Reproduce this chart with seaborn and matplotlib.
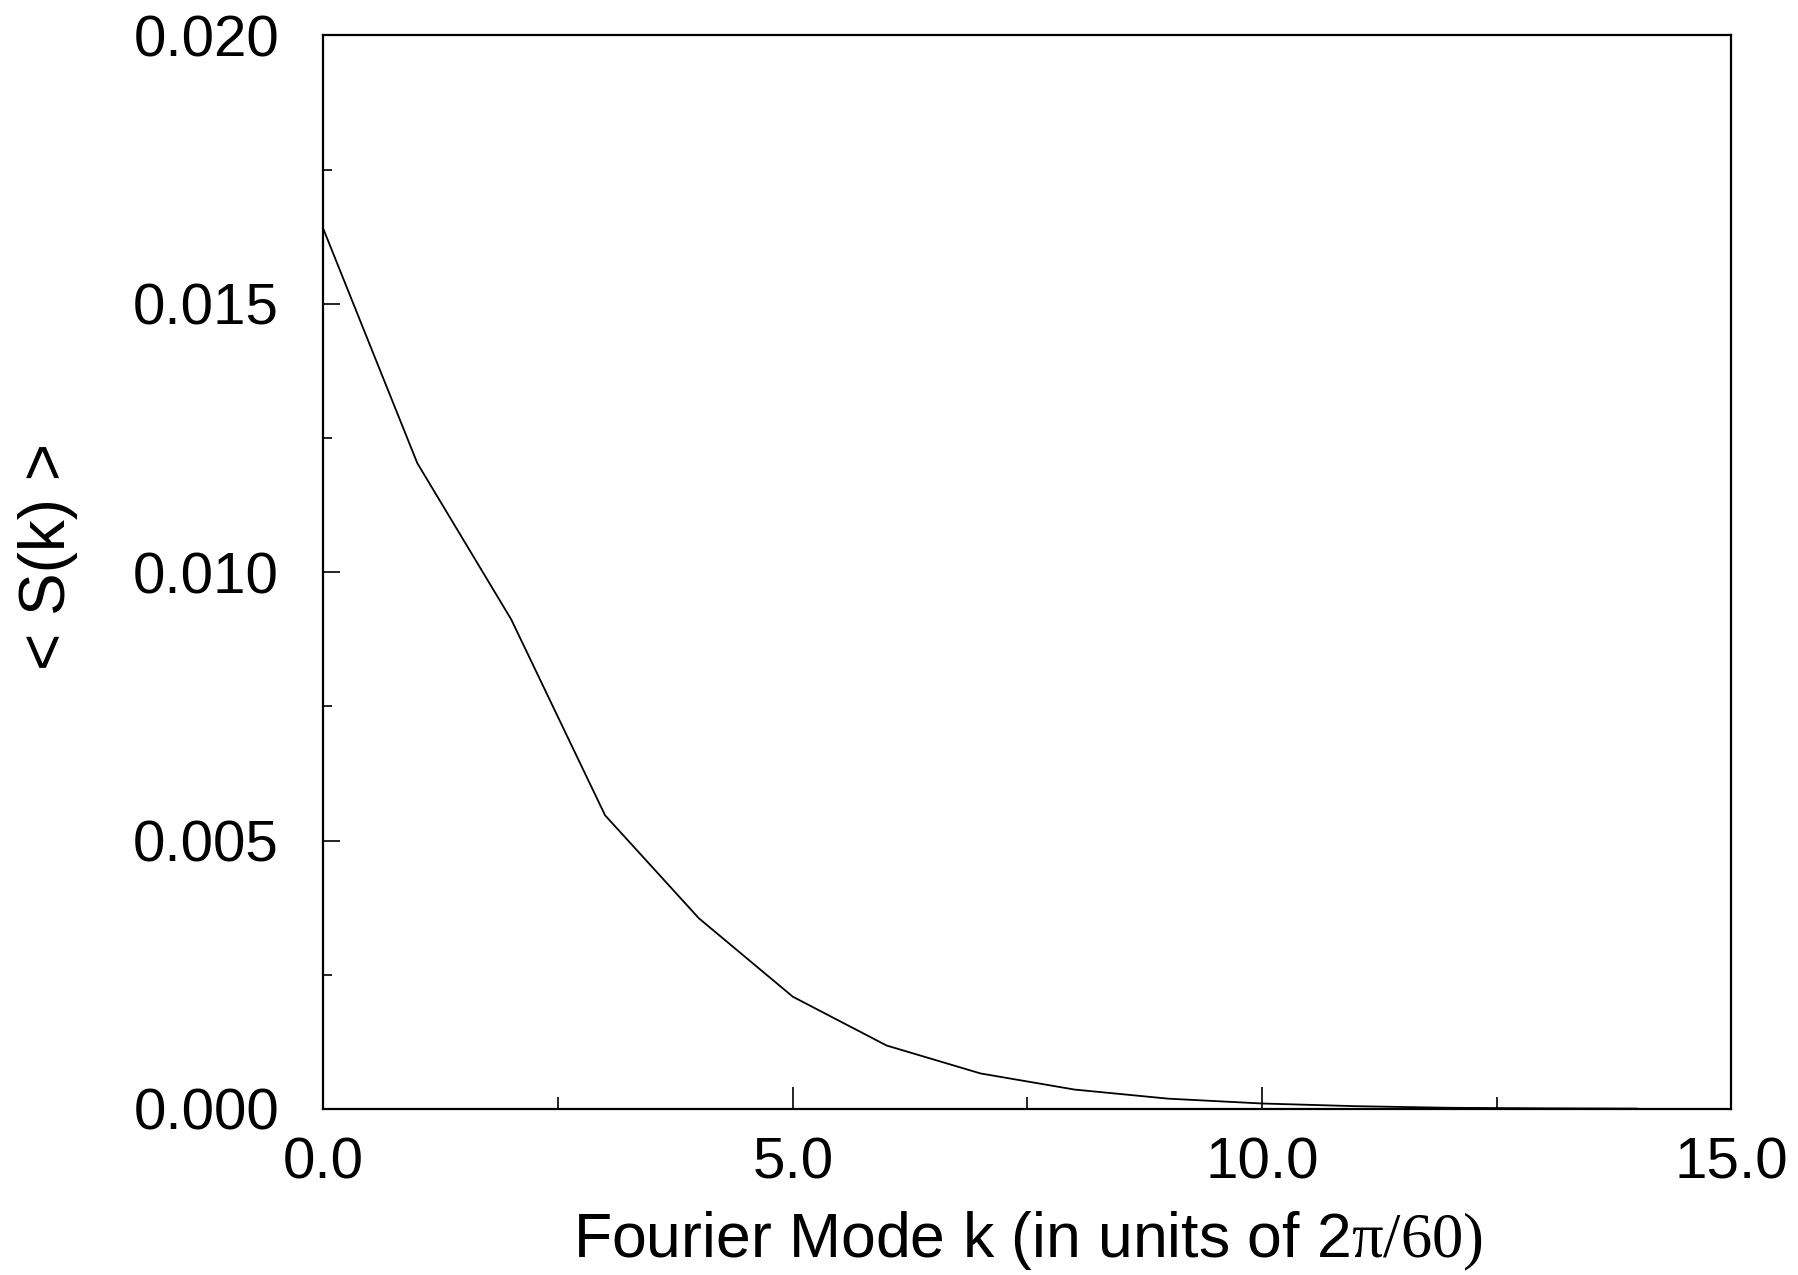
import matplotlib
matplotlib.use("Agg")
import matplotlib.pyplot as plt
import seaborn as sns
import pandas as pd
from matplotlib.ticker import MultipleLocator

k_values = [0, 1, 2, 3, 4, 5, 6, 7, 8, 9, 10, 11, 12, 13, 14]
s_values = [0.01639, 0.01203, 0.00912, 0.00547, 0.00355, 0.00209, 0.00118,
            0.00066, 0.00036, 0.00019, 0.00010, 0.00005, 0.00002, 0.00001, 0.000005]
x_ticks = [0.0, 5.0, 10.0, 15.0]
x_tick_labels = ["0.0", "5.0", "10.0", "15.0"]
y_ticks = [0.000, 0.005, 0.010, 0.015, 0.020]
y_tick_labels = ["0.000", "0.005", "0.010", "0.015", "0.020"]

sns.set_style("white")
plt.rcParams["font.family"] = ["Liberation Sans", "DejaVu Sans"]
plt.rcParams["mathtext.fontset"] = "custom"
plt.rcParams["mathtext.rm"] = "Liberation Serif"
plt.rcParams["text.color"] = "black"
plt.rcParams["axes.labelcolor"] = "black"
plt.rcParams["xtick.color"] = "black"
plt.rcParams["ytick.color"] = "black"

df = pd.DataFrame({"k": k_values, "S": s_values})

fig = plt.figure(figsize=(17.98, 12.75), dpi=100)
ax = fig.add_axes([0.1799, 0.1303, 0.963 - 0.1799, 0.9722 - 0.1303])
sns.lineplot(data=df, x="k", y="S", ax=ax, color="black", linewidth=1.3)

ax.set_xlim(0, 15)
ax.set_ylim(0, 0.020)
ax.set_xticks(x_ticks)
ax.set_xticklabels(x_tick_labels)
ax.set_yticks(y_ticks)
ax.set_yticklabels(y_tick_labels)
ax.xaxis.set_minor_locator(MultipleLocator(2.5))
ax.yaxis.set_minor_locator(MultipleLocator(0.0025))

ax.tick_params(axis="x", which="major", direction="in", length=16, width=1.2,
               labelsize=42, pad=20, top=False, bottom=True, labelcolor="black")
ax.tick_params(axis="x", which="minor", direction="in", length=8.6, width=1.2,
               top=False, bottom=True)
ax.tick_params(axis="y", which="major", direction="in", length=12, width=1.2,
               labelsize=42, pad=32, left=True, right=False, labelcolor="black")
ax.tick_params(axis="y", which="minor", direction="in", length=6.5, width=1.2,
               left=True, right=False)

for sp in ax.spines.values():
    sp.set_visible(True)
    sp.set_color("black")
    sp.set_linewidth(1.6)

ax.set_xlabel(r"Fourier Mode k (in units of 2$\mathrm{\pi/60)}$", fontsize=45,
              labelpad=14, color="black")
ax.set_ylabel("< S(k) >", fontsize=46, color="black")
ax.yaxis.set_label_coords(-0.174, 0.515)
ax.grid(False)

fig.savefig("out.png", dpi=100, facecolor="white")
